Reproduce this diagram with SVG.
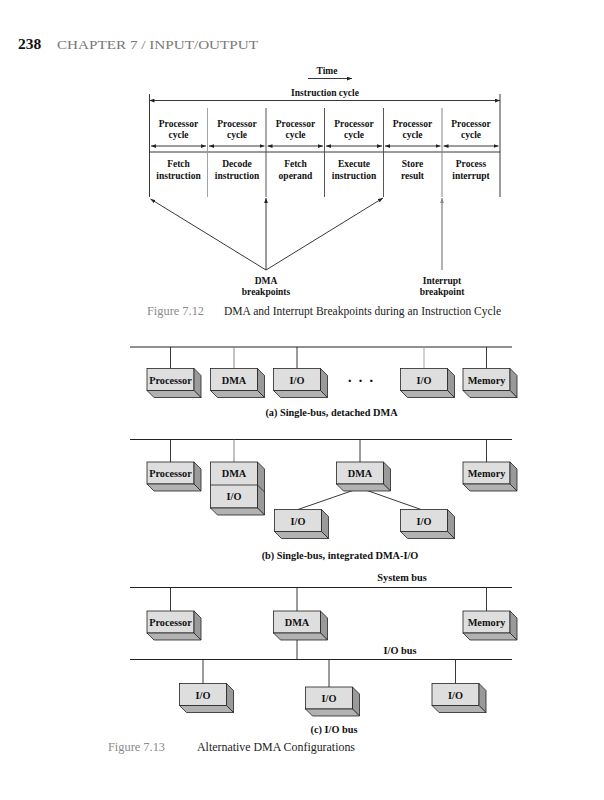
<svg xmlns="http://www.w3.org/2000/svg" xmlns:xlink="http://www.w3.org/1999/xlink" width="604" height="800" viewBox="0 0 604 800">
<style>
.t{font-family:"Liberation Serif",serif;font-weight:bold;fill:#111;text-anchor:middle}
.s9{font-size:9.5px}
.s10{font-size:10.3px}
.ln{stroke:#222;stroke-width:0.9;fill:none}
.bus{stroke:#222;stroke-width:1.1;fill:none}
.front{fill:#dedede;stroke:#222;stroke-width:0.8}
.side{fill:#9a9a9a;stroke:#222;stroke-width:0.8}
.bot{fill:#b2b2b2;stroke:#222;stroke-width:0.8}
.cap{font-family:"Liberation Serif",serif;font-size:12px;fill:#222}
.capg{font-family:"Liberation Serif",serif;font-size:12px;fill:#8a8a8a}
</style>
<defs>
<marker id="ah" viewBox="0 0 8 6" refX="8" refY="3" markerWidth="5" markerHeight="4" orient="auto-start-reverse" markerUnits="userSpaceOnUse"><path d="M0,0 L8,3 L0,6 z" fill="#222"/></marker>
<marker id="ahg" viewBox="0 0 8 6" refX="8" refY="3" markerWidth="5" markerHeight="4" orient="auto-start-reverse" markerUnits="userSpaceOnUse"><path d="M0,0 L8,3 L0,6 z" fill="#888"/></marker>
<g id="box"><rect x="0" y="0" width="47" height="22" class="front"/><polygon points="47,0 54,7 54,29 47,22" class="side"/><polygon points="0,22 47,22 54,29 7,29" class="bot"/></g>
</defs>

<!-- header -->
<text x="18" y="49" font-family="Liberation Serif,serif" font-weight="bold" font-size="15.5" fill="#111">238</text>
<text x="57" y="48.5" font-family="Liberation Serif,serif" font-size="12" fill="#777" textLength="201" lengthAdjust="spacingAndGlyphs">CHAPTER 7 / INPUT/OUTPUT</text>

<!-- Figure 7.12 -->
<g id="timeline">
<text class="t s9" x="327" y="74">Time</text>
<line class="ln" x1="308" y1="78.5" x2="352" y2="78.5" marker-end="url(#ah)"/>
<text class="t s9" x="325" y="95.5">Instruction cycle</text>
<line class="ln" x1="149.5" y1="100.5" x2="500" y2="100.5" marker-start="url(#ah)" marker-end="url(#ah)"/>
<line class="ln" x1="149.5" y1="94" x2="149.5" y2="197"/>
<line class="ln" x1="500" y1="94" x2="500" y2="197"/>
<line class="ln" x1="149.5" y1="152" x2="500" y2="152"/>
<g stroke="#444" stroke-width="0.9">
<line x1="207.5" y1="108" x2="207.5" y2="197" stroke="#999"/>
<line x1="266" y1="108" x2="266" y2="197"/>
<line x1="324.5" y1="108" x2="324.5" y2="197"/>
<line x1="383.5" y1="108" x2="383.5" y2="197"/>
<line x1="442" y1="108" x2="442" y2="197" stroke="#777"/>
</g>
<g class="ln">
<line x1="151" y1="146" x2="206" y2="146" marker-start="url(#ah)" marker-end="url(#ah)"/>
<line x1="209" y1="146" x2="264.5" y2="146" marker-start="url(#ah)" marker-end="url(#ah)"/>
<line x1="267.5" y1="146" x2="323" y2="146" marker-start="url(#ah)" marker-end="url(#ah)"/>
<line x1="326" y1="146" x2="382" y2="146" marker-start="url(#ah)" marker-end="url(#ah)"/>
<line x1="385" y1="146" x2="440.5" y2="146" marker-start="url(#ah)" marker-end="url(#ah)"/>
<line x1="443.5" y1="146" x2="498.5" y2="146" marker-start="url(#ah)" marker-end="url(#ah)"/>
</g>
</g>
<g id="proc-cycles">
<text class="t s9" x="178.5" y="126.5">Processor</text><text class="t s9" x="178.5" y="137.5">cycle</text>
<text class="t s9" x="237" y="126.5">Processor</text><text class="t s9" x="237" y="137.5">cycle</text>
<text class="t s9" x="295.5" y="126.5">Processor</text><text class="t s9" x="295.5" y="137.5">cycle</text>
<text class="t s9" x="354" y="126.5">Processor</text><text class="t s9" x="354" y="137.5">cycle</text>
<text class="t s9" x="412.5" y="126.5">Processor</text><text class="t s9" x="412.5" y="137.5">cycle</text>
<text class="t s9" x="471" y="126.5">Processor</text><text class="t s9" x="471" y="137.5">cycle</text>
</g>
<g id="stages">
<text class="t s9" x="178.5" y="167">Fetch</text><text class="t s9" x="178.5" y="178.5">instruction</text>
<text class="t s9" x="237" y="167">Decode</text><text class="t s9" x="237" y="178.5">instruction</text>
<text class="t s9" x="295.5" y="167">Fetch</text><text class="t s9" x="295.5" y="178.5">operand</text>
<text class="t s9" x="354" y="167">Execute</text><text class="t s9" x="354" y="178.5">instruction</text>
<text class="t s9" x="412.5" y="167">Store</text><text class="t s9" x="412.5" y="178.5">result</text>
<text class="t s9" x="471" y="167">Process</text><text class="t s9" x="471" y="178.5">interrupt</text>
</g>
<g id="breakpoint-arrows">
<line class="ln" x1="266" y1="270" x2="150.5" y2="199" marker-end="url(#ah)"/>
<line class="ln" x1="266" y1="270" x2="266" y2="198" marker-end="url(#ah)"/>
<line class="ln" x1="266" y1="270" x2="383" y2="198" marker-end="url(#ah)"/>
<line x1="442" y1="270" x2="442" y2="198" stroke="#888" stroke-width="1.3" marker-end="url(#ahg)"/>
</g>
<g id="dma-bp"><text class="t s9" x="266" y="284">DMA</text><text class="t s9" x="266" y="295">breakpoints</text></g>
<g id="int-bp"><text class="t s9" x="442" y="284">Interrupt</text><text class="t s9" x="442" y="295">breakpoint</text></g>
<text class="capg" x="147" y="315" textLength="57" lengthAdjust="spacingAndGlyphs">Figure 7.12</text>
<text class="cap" x="224" y="315" textLength="277" lengthAdjust="spacingAndGlyphs">DMA and Interrupt Breakpoints during an Instruction Cycle</text>

<!-- (a) -->
<g id="conn-a">
<line class="bus" x1="130" y1="347" x2="512" y2="347"/>
<g class="ln"><line x1="170.5" y1="347" x2="170.5" y2="368.5"/><line x1="234" y1="347" x2="234" y2="368.5" stroke="#777"/><line x1="297" y1="347" x2="297" y2="368.5"/><line x1="424" y1="347" x2="424" y2="368.5" stroke="#999"/><line x1="486.5" y1="347" x2="486.5" y2="368.5"/></g>
</g>
<g id="a-proc"><use xlink:href="#box" x="147" y="368.5"/><text class="t s10" x="170.5" y="383.5">Processor</text></g>
<g id="a-dma"><use xlink:href="#box" x="210.5" y="368.5"/><text class="t s10" x="234" y="383.5">DMA</text></g>
<g id="a-io1"><use xlink:href="#box" x="273.5" y="368.5"/><text class="t s10" x="297" y="383.5">I/O</text></g>
<g id="a-dots"><text class="t" font-size="15" x="361" y="386" letter-spacing="1">· · ·</text></g>
<g id="a-io2"><use xlink:href="#box" x="400.5" y="368.5"/><text class="t s10" x="424" y="383.5">I/O</text></g>
<g id="a-mem"><use xlink:href="#box" x="463" y="368.5"/><text class="t s10" x="486.5" y="383.5">Memory</text></g>
<text class="t s10" x="331.5" y="416">(a) Single-bus, detached DMA</text>

<!-- (b) -->
<g id="conn-b">
<line class="bus" x1="130" y1="439.5" x2="512" y2="439.5"/>
<g class="ln"><line x1="170.5" y1="439.5" x2="170.5" y2="462"/><line x1="234" y1="439.5" x2="234" y2="462" stroke="#777"/><line x1="360" y1="439.5" x2="360" y2="462"/><line x1="486.5" y1="439.5" x2="486.5" y2="462"/>
<line x1="360" y1="488" x2="298" y2="509.5"/><line x1="360" y1="488" x2="421" y2="509.5"/></g>
</g>
<g id="b-proc"><use xlink:href="#box" x="147" y="462"/><text class="t s10" x="170.5" y="477">Processor</text></g>
<g id="b-dmaio">
<rect x="210.5" y="462" width="47" height="46" class="front"/>
<polygon points="257.5,462 264.5,469 264.5,515 257.5,508" class="side"/>
<polygon points="210.5,508 257.5,508 264.5,515 217.5,515" class="bot"/>
<line x1="210.5" y1="485" x2="257.5" y2="485" stroke="#222" stroke-width="0.8"/>
<line x1="257.5" y1="485" x2="264.5" y2="492" stroke="#222" stroke-width="0.8"/>
<text class="t s10" x="234" y="477">DMA</text><text class="t s10" x="234" y="500">I/O</text>
</g>
<g id="b-dma"><use xlink:href="#box" x="336.5" y="462"/><text class="t s10" x="360" y="477">DMA</text></g>
<g id="b-mem"><use xlink:href="#box" x="463" y="462"/><text class="t s10" x="486.5" y="477">Memory</text></g>
<g id="b-io1"><use xlink:href="#box" x="274.5" y="509.5"/><text class="t s10" x="298" y="524.5">I/O</text></g>
<g id="b-io2"><use xlink:href="#box" x="400.5" y="509.5"/><text class="t s10" x="424" y="524.5">I/O</text></g>
<text class="t s10" x="340" y="558.5">(b) Single-bus, integrated DMA-I/O</text>

<!-- (c) -->
<text class="t s10" x="402" y="581">System bus</text>
<g id="conn-c">
<line class="bus" x1="130" y1="587.5" x2="512" y2="587.5"/>
<line class="bus" x1="130" y1="659.5" x2="512" y2="659.5"/>
<g class="ln"><line x1="170.5" y1="587.5" x2="170.5" y2="611"/><line x1="297" y1="587.5" x2="297" y2="611"/><line x1="486.5" y1="587.5" x2="486.5" y2="611"/>
<line x1="297" y1="633" x2="297" y2="659.5"/>
<line x1="203" y1="659.5" x2="203" y2="683.5"/><line x1="329" y1="659.5" x2="329" y2="687"/><line x1="455.5" y1="659.5" x2="455.5" y2="683.5"/></g>
</g>
<g id="c-proc"><use xlink:href="#box" x="147" y="611"/><text class="t s10" x="170.5" y="626">Processor</text></g>
<g id="c-dma"><use xlink:href="#box" x="273.5" y="611"/><text class="t s10" x="297" y="626">DMA</text></g>
<g id="c-mem"><use xlink:href="#box" x="463" y="611"/><text class="t s10" x="486.5" y="626">Memory</text></g>
<text class="t s10" x="400" y="654">I/O bus</text>
<g id="c-io1"><use xlink:href="#box" x="179.5" y="683.5"/><text class="t s10" x="203" y="698.5">I/O</text></g>
<g id="c-io2"><use xlink:href="#box" x="305.5" y="687"/><text class="t s10" x="329" y="702">I/O</text></g>
<g id="c-io3"><use xlink:href="#box" x="432" y="683.5"/><text class="t s10" x="455.5" y="698.5">I/O</text></g>
<text class="t s10" x="334" y="733">(c) I/O bus</text>
<text class="capg" x="108" y="751" textLength="57" lengthAdjust="spacingAndGlyphs">Figure 7.13</text>
<text class="cap" x="197" y="751" textLength="158" lengthAdjust="spacingAndGlyphs">Alternative DMA Configurations</text>
</svg>
